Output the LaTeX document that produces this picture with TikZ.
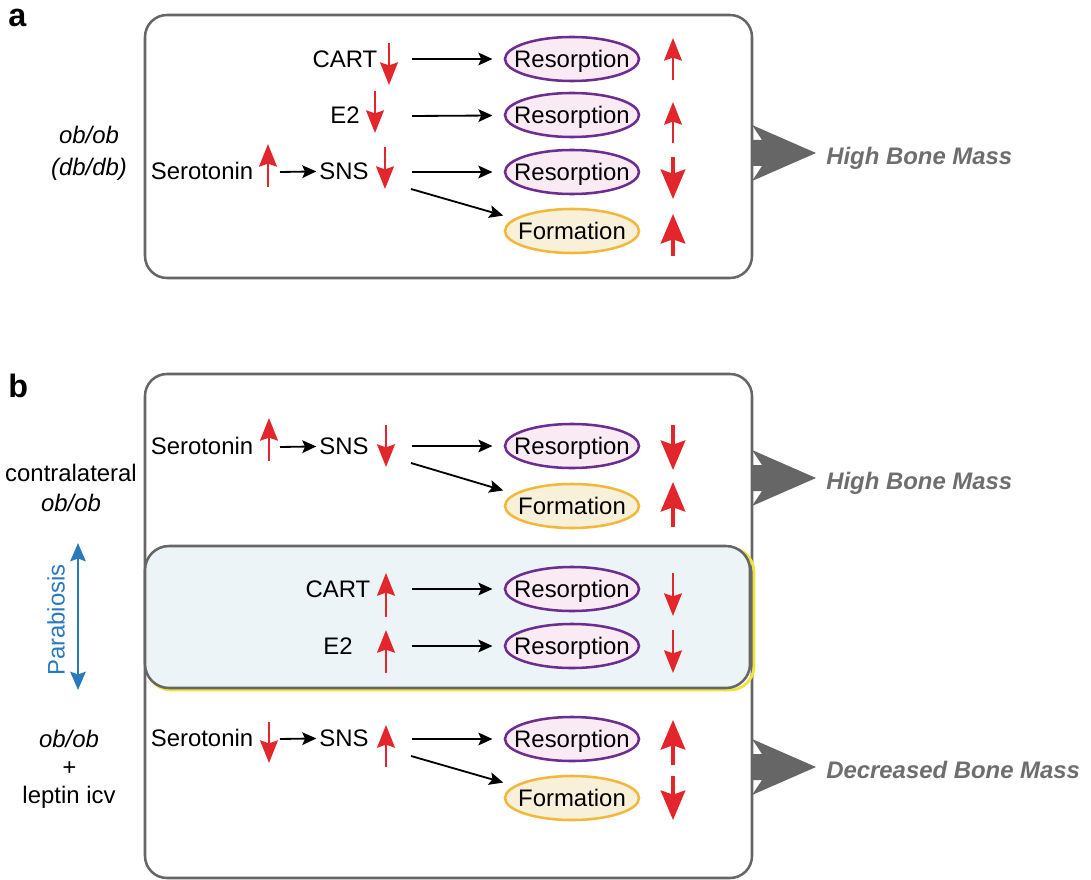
\documentclass[tikz,border=0pt]{standalone}
\usepackage{fontspec}
\setmainfont{Liberation Sans}
\usetikzlibrary{arrows.meta,shapes.geometric}
\definecolor{boxgray}{HTML}{666666}
\definecolor{massgray}{HTML}{6E6E6E}
\definecolor{redarr}{HTML}{E2262B}
\definecolor{respurple}{HTML}{6B2D90}
\definecolor{respink}{HTML}{F9EAF3}
\definecolor{formorange}{HTML}{F3B73B}
\definecolor{formcream}{HTML}{F8F0D8}
\definecolor{parablue}{HTML}{2A78BD}
\definecolor{cellblue}{HTML}{ECF4F8}
\definecolor{halo}{HTML}{F0E43A}
\newcommand{\txtsize}{\fontsize{17}{20}\selectfont}

\begin{document}
\begin{tikzpicture}[x=0.025cm,y=-0.025cm,
    txt/.style={font=\txtsize,inner sep=0pt,text height=12.2pt,text depth=0pt},
    itxt/.style={txt,font=\txtsize\itshape},
    res/.style={ellipse,draw=respurple,fill=respink,line width=1.8pt,
      minimum width=3.35cm,minimum height=1.1cm,inner sep=0pt,
      label={[txt]center:#1}},
    form/.style={res=#1,draw=formorange,fill=formcream},
    panel/.style={draw=boxgray,line width=1.8pt,rounded corners=0.55cm},
    blk/.style={-{Stealth[length=10pt,width=9pt,inset=2pt]},line width=1.3pt,black},
    redsm/.style={-{Stealth[length=16pt,width=12.5pt,inset=2pt]},line width=2pt,redarr},
    redbig/.style={-{Stealth[length=21pt,width=17.5pt,inset=3pt]},line width=2.4pt,redarr}]
  \useasboundingbox (0,0) rectangle (1091,880);

  % panel a
  \node[font=\fontsize{23}{27}\selectfont\bfseries,anchor=base west,inner sep=0pt] (lblA) at (8,27) {a};
  \draw[panel] (145,15) rectangle (752,278);
  \node[itxt] (obA) at (89,135) {ob/ob};
  \node[itxt] (dbA) at (89,167) {(db/db)};

  \node[txt] (cartA) at (345,59) {CART};
  \node[txt] (e2A) at (345,115) {E2};
  \node[txt] (seroA) at (202,171) {Serotonin};
  \node[txt] (snsA) at (344,171) {SNS};
  \node[res=Resorption] (resA1) at (572,59) {};
  \node[res=Resorption] (resA2) at (572,115) {};
  \node[res=Resorption] (resA3) at (572,172) {};
  \node[form=Formation] (formA) at (572,231) {};

  \coordinate (cA1) at (412,59);
  \coordinate (cA2) at (412,116);
  \coordinate (cA3) at (412,172);
  \coordinate (cA4) at (411,189);
  \coordinate (sA) at (280,172);
  \draw[blk,shorten >=2pt] (sA) -- (snsA);
  \draw[blk,shorten >=8pt] (cA1) -- (resA1);
  \draw[blk,shorten >=8pt] (cA2) -- (resA2);
  \draw[blk,shorten >=8pt] (cA3) -- (resA3);
  \draw[blk,shorten >=8pt] (cA4) -- (formA.168);

  \draw[redsm] (389,43) -- (389,85);
  \draw[redsm] (375,91) -- (375,133);
  \draw[redsm] (268,187) -- (268,144);
  \draw[redsm] (385,147) -- (385,189);
  \draw[redsm] (673,80) -- (673,38);
  \draw[redsm] (673,143) -- (673,102);
  \draw[redbig] (673,157) -- (673,199);
  \draw[redbig] (673,256) -- (673,214);

  % panel b
  \node[font=\fontsize{23}{27}\selectfont\bfseries,anchor=base west,inner sep=0pt] (lblB) at (8,397) {b};
  \draw[panel] (145,374) rectangle (752,878);
  \draw[halo,line width=2pt,rounded corners=0.6cm] (147,548) rectangle (754,690);
  \draw[panel,fill=cellblue,rounded corners=0.6cm] (145,546) rectangle (750,688);

  \node[txt] (contra) at (71,473) {contralateral};
  \node[itxt] (obB) at (71,503) {ob/ob};
  \node[itxt] (obC) at (69,739) {ob/ob};
  \node[itxt] (plusC) at (69,767) {+};
  \node[txt] (leptin) at (69,795) {leptin icv};

  \coordinate (para1) at (78,543);
  \coordinate (para2) at (78,690);
  \draw[{Stealth[length=13pt,width=11pt,inset=2pt]}-{Stealth[length=13pt,width=11pt,inset=2pt]},
    line width=1.5pt,parablue] (para1) -- (para2);
  \node[txt,rotate=90,text=parablue] (paraT) at (56,620) {Parabiosis};

  % contralateral ob/ob
  \node[txt] (seroB) at (202,446) {Serotonin};
  \node[txt] (snsB) at (344,446) {SNS};
  \node[res=Resorption] (resB1) at (572,446) {};
  \node[form=Formation] (formB) at (572,506) {};
  \coordinate (sB) at (280,447);
  \coordinate (cB1) at (412,446);
  \coordinate (cB2) at (411,463);
  \draw[blk,shorten >=2pt] (sB) -- (snsB);
  \draw[blk,shorten >=8pt] (cB1) -- (resB1);
  \draw[blk,shorten >=8pt] (cB2) -- (formB.168);
  \draw[redsm] (269,461) -- (269,418);
  \draw[redsm] (386,425) -- (386,467);
  \draw[redbig] (673,425) -- (673,470);
  \draw[redbig] (673,527) -- (673,482);

  % shared circulation
  \node[txt] (cartB) at (338,589) {CART};
  \node[txt] (e2B) at (338,646) {E2};
  \node[res=Resorption] (resB2) at (572,589) {};
  \node[res=Resorption] (resB3) at (572,646) {};
  \coordinate (cB3) at (412,589);
  \coordinate (cB4) at (412,646);
  \draw[blk,shorten >=8pt] (cB3) -- (resB2);
  \draw[blk,shorten >=8pt] (cB4) -- (resB3);
  \draw[redsm] (386,617) -- (386,573);
  \draw[redsm] (386,673) -- (386,630);
  \draw[redsm] (673,573) -- (673,616);
  \draw[redsm] (673,630) -- (673,673);

  % ob/ob + leptin icv
  \node[txt] (seroC) at (202,738) {Serotonin};
  \node[txt] (snsC) at (344,738) {SNS};
  \node[res=Resorption] (resC) at (572,739) {};
  \node[form=Formation] (formC) at (572,798) {};
  \coordinate (sC) at (280,739);
  \coordinate (cC1) at (412,739);
  \coordinate (cC2) at (411,756);
  \draw[blk,shorten >=2pt] (sC) -- (snsC);
  \draw[blk,shorten >=8pt] (cC1) -- (resC);
  \draw[blk,shorten >=8pt] (cC2) -- (formC.168);
  \draw[redsm] (269,722) -- (269,763);
  \draw[redsm] (386,767) -- (386,725);
  \draw[redbig] (673,765) -- (673,720);
  \draw[redbig] (673,776) -- (673,820);

  % outcome arrows
  \foreach \yy/\lab/\nm in {153/High Bone Mass/massA,478/High Bone Mass/massB,767/Decreased Bone Mass/massC}{
    \fill[boxgray] (752,\yy-13) -- (762,\yy-13) -- (752,\yy-28) -- (816,\yy)
      -- (752,\yy+28) -- (762,\yy+13) -- (752,\yy+13) -- cycle;
    \node[txt,font=\txtsize\bfseries\itshape,text=massgray,anchor=west] (\nm) at (826,\yy+3) {\lab};
  }
\end{tikzpicture}
\end{document}
